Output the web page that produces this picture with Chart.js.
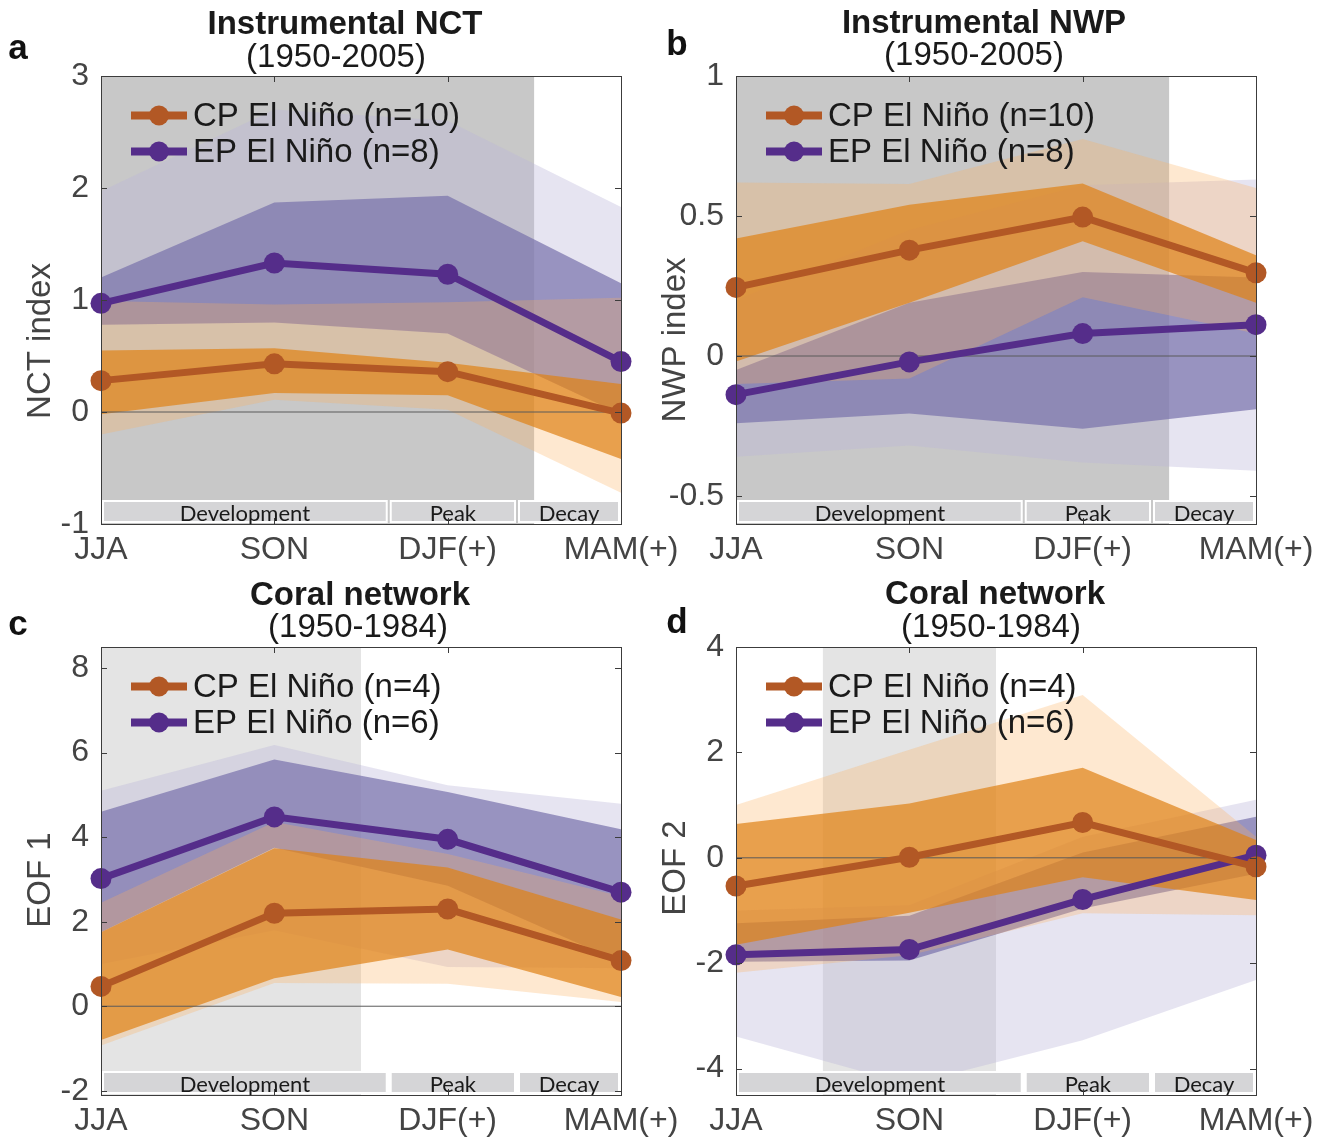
<!DOCTYPE html>
<html><head><meta charset="utf-8">
<script src="https://cdn.jsdelivr.net/npm/chart.js@4.4.1/dist/chart.umd.min.js"></script>
<style>
html,body{margin:0;padding:0;background:#fff;}
#wrap{position:relative;width:1332px;height:1142px;overflow:hidden;font-family:'Liberation Sans',Arial,sans-serif;background:#fff;}
canvas{position:absolute;}
.t{position:absolute;white-space:nowrap;transform:translate(-50%,-50%);color:#1a1a1a;font-size:33px;line-height:1;}
.b{font-weight:bold;}
.lt{position:absolute;font-weight:bold;font-size:35px;color:#111;transform:translate(-50%,-50%);line-height:1;}
</style></head>
<body><div id="wrap">
<canvas id="ca"></canvas><canvas id="cb"></canvas><canvas id="cc"></canvas><canvas id="cd"></canvas>
<div class="t b" style="left:345px;top:22px">Instrumental NCT</div>
<div class="t" style="left:336px;top:55px">(1950-2005)</div>
<div class="t b" style="left:984px;top:21px">Instrumental NWP</div>
<div class="t" style="left:974px;top:53px">(1950-2005)</div>
<div class="t b" style="left:360px;top:593px">Coral network</div>
<div class="t" style="left:358px;top:625px">(1950-1984)</div>
<div class="t b" style="left:995px;top:592px">Coral network</div>
<div class="t" style="left:991px;top:625px">(1950-1984)</div>
<div class="lt" style="left:18px;top:46px">a</div>
<div class="lt" style="left:677px;top:42px">b</div>
<div class="lt" style="left:18px;top:622px">c</div>
<div class="lt" style="left:677px;top:620px">d</div>
</div>
<script>
// ---------- categories / labels ----------
const seasons = ['JJA', 'SON', 'DJF(+)', 'MAM(+)'];
const phaseNames = ['Development', 'Peak', 'Decay'];
const phaseEdges = [0, 1.66, 2.4, 3];
const legendInstr = ['CP El Niño (n=10)', 'EP El Niño (n=8)'];
const legendCoral = ['CP El Niño (n=4)', 'EP El Niño (n=6)'];

// ---------- panel a: Instrumental NCT ----------
const nctTicks = [-1, 0, 1, 2, 3];
const nctShade = [0, 2.5];
const nctCP = [0.28, 0.43, 0.36, -0.01];
const nctCPInnerHi = [0.55, 0.57, 0.44, 0.25];
const nctCPInnerLo = [-0.02, 0.17, 0.15, -0.42];
const nctCPOuterHi = [0.99, 0.96, 0.98, 1.02];
const nctCPOuterLo = [-0.2, 0.11, 0.02, -0.72];
const nctEP = [0.97, 1.33, 1.23, 0.45];
const nctEPInnerHi = [1.2, 1.87, 1.93, 1.15];
const nctEPInnerLo = [0.78, 0.8, 0.7, -0.02];
const nctEPOuterHi = [1.97, 2.7, 2.6, 1.83];
const nctEPOuterLo = [0.78, 0.8, 0.7, -0.02];

// ---------- panel b: Instrumental NWP ----------
const nwpTicks = [-0.5, 0, 0.5, 1];
const nwpShade = [0, 2.5];
const nwpCP = [0.245, 0.378, 0.496, 0.297];
const nwpCPInnerHi = [0.42, 0.54, 0.616, 0.36];
const nwpCPInnerLo = [-0.02, 0.19, 0.41, 0.19];
const nwpCPOuterHi = [0.62, 0.614, 0.775, 0.6];
const nwpCPOuterLo = [-0.1, -0.08, 0.21, 0.08];
const nwpEP = [-0.138, -0.021, 0.08, 0.112];
const nwpEPInnerHi = [-0.05, 0.19, 0.3, 0.28];
const nwpEPInnerLo = [-0.24, -0.205, -0.26, -0.19];
const nwpEPOuterHi = [0.2, 0.45, 0.61, 0.63];
const nwpEPOuterLo = [-0.36, -0.32, -0.38, -0.41];

// ---------- panel c: Coral network EOF 1 ----------
const eof1Ticks = [-2, 0, 2, 4, 6, 8];
const eof1Shade = [0, 1.5];
const eof1CP = [0.47, 2.2, 2.3, 1.08];
const eof1CPInnerHi = [1.75, 3.74, 3.28, 2.05];
const eof1CPInnerLo = [-0.8, 0.66, 1.34, 0.22];
const eof1CPOuterHi = [2.45, 4.36, 3.6, 2.6];
const eof1CPOuterLo = [-0.93, 0.55, 0.53, 0.1];
const eof1EP = [3.02, 4.48, 3.95, 2.7];
const eof1EPInnerHi = [4.6, 5.84, 5.07, 4.19];
const eof1EPInnerLo = [1.75, 3.75, 2.85, 1.04];
const eof1EPOuterHi = [5.1, 6.18, 5.23, 4.79];
const eof1EPOuterLo = [1.0, 1.8, 0.93, 0.9];

// ---------- panel d: Coral network EOF 2 ----------
const eof2Ticks = [-4, -2, 0, 2, 4];
const eof2Shade = [0.5, 1.5];
const eof2CP = [-0.535, 0.01, 0.67, -0.17];
const eof2CPInnerHi = [0.64, 1.03, 1.71, 0.34];
const eof2CPInnerLo = [-1.65, -1.04, -0.37, -0.8];
const eof2CPOuterHi = [1.0, 2.05, 3.09, 0.4];
const eof2CPOuterLo = [-2.18, -1.85, -1.05, -1.09];
const eof2EP = [-1.84, -1.74, -0.79, 0.05];
const eof2EPInnerHi = [-1.24, -1.1, 0.1, 0.78];
const eof2EPInnerLo = [-1.97, -1.95, -0.96, -0.3];
const eof2EPOuterHi = [-1.0, -0.9, 0.4, 1.1];
const eof2EPOuterLo = [-3.39, -4.3, -3.46, -2.32];

// ---------- styles ----------
const CP_LINE = '#b25825', EP_LINE = '#552d8a';
const CP_OUT = 'rgba(252,176,93,0.29)', CP_IN = 'rgba(223,129,22,0.7)';
const EP_OUT = 'rgba(187,182,217,0.37)', EP_IN = 'rgba(120,112,171,0.7)';
const NONE = 'rgba(0,0,0,0)';
const FONT = "'Liberation Sans', Arial, sans-serif";
Chart.defaults.font.family = FONT;

const pts = arr => arr.map((y, i) => ({x: i, y}));

const panels = [
  {id:'ca', left:0, top:0, w:700, ymin:-1, ymax:3, ticks:nctTicks, shade:nctShade, shadeColor:'#c8c8c8', ytitle:'NCT index', ytitleY:341, legend:legendInstr,
   cp:{m:nctCP, iHi:nctCPInnerHi, iLo:nctCPInnerLo, oHi:nctCPOuterHi, oLo:nctCPOuterLo},
   ep:{m:nctEP, iHi:nctEPInnerHi, iLo:nctEPInnerLo, oHi:nctEPOuterHi, oLo:nctEPOuterLo}},
  {id:'cb', left:635, top:0, w:697, ymin:-0.6, ymax:1, ticks:nwpTicks, shade:nwpShade, shadeColor:'#c8c8c8', ytitle:'NWP index', ytitleY:340, legend:legendInstr,
   cp:{m:nwpCP, iHi:nwpCPInnerHi, iLo:nwpCPInnerLo, oHi:nwpCPOuterHi, oLo:nwpCPOuterLo},
   ep:{m:nwpEP, iHi:nwpEPInnerHi, iLo:nwpEPInnerLo, oHi:nwpEPOuterHi, oLo:nwpEPOuterLo}},
  {id:'cc', left:0, top:571, w:700, ymin:-2.1, ymax:8.5, ticks:eof1Ticks, shade:eof1Shade, shadeColor:'#e4e4e4', ytitle:'EOF 1', ytitleY:309, legend:legendCoral,
   cp:{m:eof1CP, iHi:eof1CPInnerHi, iLo:eof1CPInnerLo, oHi:eof1CPOuterHi, oLo:eof1CPOuterLo},
   ep:{m:eof1EP, iHi:eof1EPInnerHi, iLo:eof1EPInnerLo, oHi:eof1EPOuterHi, oLo:eof1EPOuterLo}},
  {id:'cd', left:635, top:571, w:697, ymin:-4.5, ymax:4, ticks:eof2Ticks, shade:eof2Shade, shadeColor:'#e4e4e4', ytitle:'EOF 2', ytitleY:297, legend:legendCoral,
   cp:{m:eof2CP, iHi:eof2CPInnerHi, iLo:eof2CPInnerLo, oHi:eof2CPOuterHi, oLo:eof2CPOuterLo},
   ep:{m:eof2EP, iHi:eof2EPInnerHi, iLo:eof2EPInnerLo, oHi:eof2EPOuterHi, oLo:eof2EPOuterLo}}
];

function decor(p) {
  return {
    id: 'decor_' + p.id,
    afterDatasetsDraw(chart) {
      const ctx = chart.ctx, ca = chart.chartArea, xs = chart.scales.x;
      const top = ca.bottom - 23, h = 21;
      ctx.save();
      for (let i = 0; i < phaseNames.length; i++) {
        const x0 = xs.getPixelForValue(phaseEdges[i]), x1 = xs.getPixelForValue(phaseEdges[i + 1]);
        ctx.fillStyle = '#ffffff';
        ctx.fillRect(x0 + 1, top - 1, x1 - x0 - 2, h + 2);
        ctx.fillStyle = '#d5d5d7';
        ctx.fillRect(x0 + 3, top + 1, x1 - x0 - 6, h - 2);
        ctx.fillStyle = '#1a1a1a';
        ctx.font = "22px Lato, 'Open Sans', sans-serif";
        ctx.textAlign = 'center';
        ctx.textBaseline = 'middle';
        ctx.fillText(phaseNames[i], (x0 + x1) / 2, top + h / 2 + 2);
      }
      ctx.restore();
    },
    afterDraw(chart) {
      const ctx = chart.ctx, ca = chart.chartArea, xs = chart.scales.x, ys = chart.scales.y;
      ctx.save();
      // box
      ctx.strokeStyle = '#3c3c3c';
      ctx.lineWidth = 1;
      ctx.strokeRect(Math.round(ca.left) + 0.5, Math.round(ca.top) + 0.5, Math.round(ca.right - ca.left), Math.round(ca.bottom - ca.top));
      // inward ticks
      ctx.beginPath();
      xs.ticks.forEach(t => {
        const x = Math.round(xs.getPixelForValue(t.value)) + 0.5;
        ctx.moveTo(x, ca.top); ctx.lineTo(x, ca.top + 6);
        ctx.moveTo(x, ca.bottom); ctx.lineTo(x, ca.bottom - 6);
      });
      ys.ticks.forEach(t => {
        const y = Math.round(ys.getPixelForValue(t.value)) + 0.5;
        ctx.moveTo(ca.left, y); ctx.lineTo(ca.left + 6, y);
        ctx.moveTo(ca.right, y); ctx.lineTo(ca.right - 6, y);
      });
      ctx.stroke();
      // legend
      const cols = [CP_LINE, EP_LINE];
      const rows = [39.5, 75.5];
      ctx.font = "33px " + FONT;
      ctx.textAlign = 'left';
      ctx.textBaseline = 'middle';
      for (let i = 0; i < 2; i++) {
        const y = ca.top + rows[i];
        ctx.strokeStyle = cols[i];
        ctx.lineWidth = 8;
        ctx.beginPath();
        ctx.moveTo(ca.left + 30, y); ctx.lineTo(ca.left + 86, y);
        ctx.stroke();
        ctx.fillStyle = cols[i];
        ctx.beginPath();
        ctx.arc(ca.left + 58, y, 10, 0, Math.PI * 2);
        ctx.fill();
        ctx.fillStyle = '#1a1a1a';
        ctx.fillText(p.legend[i], ca.left + 92, y + 1);
      }
      // y-axis title
      ctx.translate(41, p.ytitleY);
      ctx.rotate(-Math.PI / 2);
      ctx.fillStyle = '#444';
      ctx.textAlign = 'center';
      ctx.fillText(p.ytitle, 0, 0);
      ctx.restore();
    }
  };
}

function build(p) {
  const cv = document.getElementById(p.id);
  const W = p.w, H = 571;
  cv.width = W; cv.height = H;
  cv.style.left = p.left + 'px'; cv.style.top = p.top + 'px';
  cv.style.width = W + 'px'; cv.style.height = H + 'px';
  const ds = [];
  ds.push({data: [{x: p.shade[0], y: p.ymax}, {x: p.shade[1], y: p.ymax}], fill: 'start', backgroundColor: p.shadeColor,
           borderColor: NONE, borderWidth: 0, pointRadius: 0, order: 200});
  const band = (hi, lo, col, ord) => {
    ds.push({data: pts(hi), fill: '+1', backgroundColor: col, borderColor: NONE, borderWidth: 0, pointRadius: 0, order: ord});
    ds.push({data: pts(lo), fill: false, borderColor: NONE, borderWidth: 0, pointRadius: 0, order: ord});
  };
  band(p.ep.oHi, p.ep.oLo, EP_OUT, 100);
  band(p.ep.iHi, p.ep.iLo, EP_IN, 90);
  band(p.cp.oHi, p.cp.oLo, CP_OUT, 80);
  band(p.cp.iHi, p.cp.iLo, CP_IN, 70);
  ds.push({data: [{x: 0, y: 0}, {x: 3, y: 0}], borderColor: '#5a5a5a', borderWidth: 1, pointRadius: 0, fill: false, order: 40});
  ds.push({data: pts(p.ep.m), borderColor: EP_LINE, backgroundColor: EP_LINE, pointBackgroundColor: EP_LINE, borderWidth: 7,
           pointRadius: 10.5, pointBorderWidth: 0, fill: false, clip: false, order: 20});
  ds.push({data: pts(p.cp.m), borderColor: CP_LINE, backgroundColor: CP_LINE, pointBackgroundColor: CP_LINE, borderWidth: 7,
           pointRadius: 10.5, pointBorderWidth: 0, fill: false, clip: false, order: 10});

  new Chart(cv, {
    type: 'line',
    data: {datasets: ds},
    options: {
      responsive: false, animation: false, devicePixelRatio: 1,
      layout: {padding: {left: 0, top: 76, right: W - 621, bottom: 0}},
      plugins: {legend: {display: false}, tooltip: {enabled: false}, title: {display: false}},
      elements: {line: {tension: 0}},
      scales: {
        x: {
          type: 'linear', min: 0, max: 3,
          afterBuildTicks(s) { s.ticks = seasons.map((_, i) => ({value: i})); },
          afterFit(s) { s.height = 47; s.paddingLeft = 0; s.paddingRight = 0; },
          grid: {display: false, drawTicks: false}, border: {display: false},
          ticks: {padding: 7, color: '#444', font: {size: 32}, maxRotation: 0, autoSkip: false,
                  callback: v => seasons[Math.round(v)]}
        },
        y: {
          type: 'linear', min: p.ymin, max: p.ymax,
          afterBuildTicks(s) { s.ticks = p.ticks.map(v => ({value: v})); },
          afterFit(s) { s.width = 101; s.paddingTop = 0; s.paddingBottom = 0; },
          grid: {display: false, drawTicks: false}, border: {display: false},
          ticks: {padding: 12, color: '#444', font: {size: 32}, callback: v => String(v)}
        }
      }
    },
    plugins: [decor(p)]
  });
}
panels.forEach(build);
</script>
</body></html>
